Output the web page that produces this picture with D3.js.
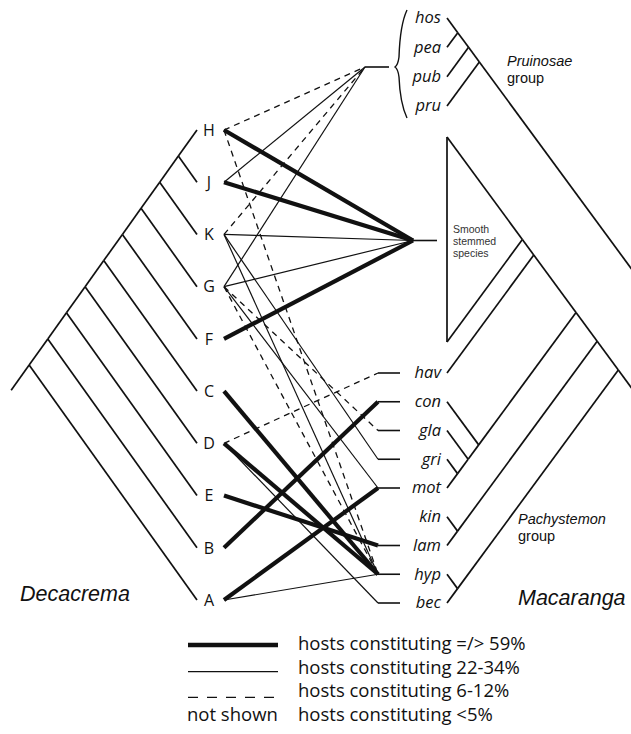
<!DOCTYPE html>
<html>
<head>
<meta charset="utf-8">
<script src="https://cdn.jsdelivr.net/npm/d3@7"></script>
<style>
body { margin: 0; background: #fff; }
svg { display: block; font-family: "Open Sans", sans-serif; }
</style>
</head>
<body>
<div class="drawingboard"></div>
<script>
// Decacrema (ants), top to bottom
const leftLeaves = ["H", "J", "K", "G", "F", "C", "D", "E", "B", "A"];
const leftTree = [[[[[[[[["H", "J"], "K"], "G"], "F"], "C"], "D"], "E"], "B"], "A"];

// Macaranga (hosts), top to bottom; "smooth" is the collapsed smooth-stemmed clade
const pruinosaeHosts = ["hos", "pea", "pub", "pru"];
const pachyHosts = ["hav", "con", "gla", "gri", "mot", "kin", "lam", "hyp", "bec"];
const smoothLines = ["Smooth", "stemmed", "species"];
const rightTree = [
    [[["hos", "pea"], "pub"], "pru"],
    [[[["smooth", "hav"], ["con", ["gla", ["gri", "mot"]]]], ["kin", "lam"]], ["hyp", "bec"]]
];

// associations: ant, host, strength class
const links = [
    ["H", "Pruinosae", "dashed"], ["H", "smooth", "thick"], ["H", "hyp", "dashed"],
    ["J", "Pruinosae", "thin"], ["J", "smooth", "thick"],
    ["K", "Pruinosae", "dashed"], ["K", "smooth", "thin"], ["K", "gri", "thin"], ["K", "hyp", "thin"],
    ["G", "Pruinosae", "thin"], ["G", "smooth", "thin"], ["G", "gla", "dashed"], ["G", "hyp", "dashed"], ["G", "mot", "thin"],
    ["F", "smooth", "thick"],
    ["C", "hyp", "thick"],
    ["D", "hav", "dashed"], ["D", "hyp", "thick"], ["D", "bec", "thin"],
    ["E", "lam", "thick"],
    ["B", "con", "thick"],
    ["A", "mot", "thick"], ["A", "hyp", "thin"]
];

const legendClasses = ["thick", "thin", "dashed", "none"];
const legendLabels = ["hosts constituting =/> 59%", "hosts constituting 22-34%", "hosts constituting 6-12%", "hosts constituting <5%"];

var width = 631, height = 734;
var ink = "#111";

var svg = d3.select(".drawingboard")
    .append("svg")
    .attr("width", width)
    .attr("height", height);

var yL = d3.scalePoint().domain(leftLeaves).range([130, 600]);
var yTop = d3.scalePoint().domain(pruinosaeHosts).range([18, 106]);
var yBot = d3.scalePoint().domain(pachyHosts).range([373, 603]);
var gap = 31;

function spanR(name) {
    if (name === "smooth") return [yTop.range()[1] + gap, yBot.range()[0] - gap];
    var y = pruinosaeHosts.includes(name) ? yTop(name) : yBot(name);
    return [y, y];
}

var widthOf = d3.scaleOrdinal().domain(["thick", "thin", "dashed"]).range([4.2, 1.2, 1.3]);
var dashOf = d3.scaleOrdinal().domain(["thick", "thin", "dashed"]).range([null, null, "6,5"]);

function kids(d) { return Array.isArray(d) ? d : null; }

// slanted cladogram: node sits where the line from its top leaf meets the line from its bottom leaf
function slant(root, span, tipX, dir, s) {
    root.eachAfter(function (d) {
        if (!d.children) {
            var sp = span(d.data);
            d.top = sp[0]; d.bot = sp[1];
        } else {
            d.top = d3.min(d.children, function (c) { return c.top; });
            d.bot = d3.max(d.children, function (c) { return c.bot; });
        }
        var t = (d.bot - d.top) / (2 * s);
        d.px = tipX + dir * t;
        d.py = d.top + s * t;
    });
}

var sL = 1.4, sR = 1.36, tipL = 197, tipR = 447;

var left = d3.hierarchy(leftTree, kids);
slant(left, function (n) { return [yL(n), yL(n)]; }, tipL, -1, sL);

var right = d3.hierarchy(rightTree, kids);
slant(right, spanR, tipR, 1, sR);

var trees = svg.append("g")
    .style("stroke", ink)
    .style("stroke-width", 1.7)
    .style("fill", "none");

function seg(x1, y1, x2, y2) {
    trees.append("line").attr("x1", x1).attr("y1", y1).attr("x2", x2).attr("y2", y2);
}

// left tree
left.descendants().slice(1).forEach(function (d) { seg(d.parent.px, d.parent.py, d.px, d.py); });
seg(left.px, left.py, left.px - 18, left.py + 18 * sL);

// right tree (root lies off the page, to the right)
right.descendants().forEach(function (d) {
    if (d.parent && d.parent !== right) seg(d.parent.px, d.parent.py, d.px, d.py);
});
right.children.forEach(function (d) { seg(d.px, d.py, d.px + 200, d.py + 200 * sR); });

// collapsed smooth-stemmed clade as a triangle
var smooth = right.leaves().find(function (d) { return d.data === "smooth"; });
seg(tipR, smooth.top, tipR, smooth.bot);
seg(tipR, smooth.top, smooth.px, smooth.py);
seg(tipR, smooth.bot, smooth.px, smooth.py);

// host target points
var braceTop = yTop("hos") - 8, braceBot = yTop("pru") + 12, braceMid = (braceTop + braceBot) / 2 + 3;
var smoothMid = (smooth.top + smooth.bot) / 2 + 1;

function target(name) {
    if (name === "Pruinosae") return [365, braceMid];
    if (name === "smooth") return [413, smoothMid];
    return [378, spanR(name)[0]];
}

var order = { dashed: 0, thin: 1, thick: 2 };
var sorted = links.slice().sort(function (a, b) { return order[a[2]] - order[b[2]]; });

svg.append("g").selectAll("line")
    .data(sorted)
    .enter().append("line")
    .attr("x1", 224)
    .attr("y1", function (d) { return yL(d[0]); })
    .attr("x2", function (d) { return target(d[1])[0]; })
    .attr("y2", function (d) { return target(d[1])[1]; })
    .style("stroke", ink)
    .style("stroke-width", function (d) { return widthOf(d[2]); })
    .style("stroke-dasharray", function (d) { return dashOf(d[2]); });

// short stubs from the target points toward the host labels
var hit = Array.from(new Set(links.map(function (d) { return d[1]; })));
var stubs = svg.append("g").style("stroke", ink).style("stroke-width", 1.6);
hit.forEach(function (name) {
    var p = target(name);
    var len = name === "Pruinosae" || name === "smooth" ? 24 : 22;
    stubs.append("line").attr("x1", p[0]).attr("y1", p[1]).attr("x2", p[0] + len).attr("y2", p[1]);
});

// brace round the Pruinosae hosts
svg.append("path")
    .attr("d", "M407," + braceTop + " Q400," + (braceTop + 15) + " 399," + (braceMid - 10) +
        " Q398," + (braceMid - 2) + " 395," + braceMid +
        " Q398," + (braceMid + 2) + " 399," + (braceMid + 10) +
        " Q400," + (braceBot - 15) + " 407," + braceBot)
    .style("fill", "none").style("stroke", ink).style("stroke-width", 1.4);

// labels
svg.append("g").selectAll("text")
    .data(leftLeaves)
    .enter().append("text")
    .attr("x", 209)
    .attr("y", function (d) { return yL(d); })
    .attr("dy", "0.36em")
    .style("text-anchor", "middle")
    .style("font-size", "16px")
    .style("fill", ink)
    .text(function (d) { return d; });

svg.append("g").selectAll("text")
    .data(pruinosaeHosts.concat(pachyHosts))
    .enter().append("text")
    .attr("x", 441)
    .attr("y", function (d) { return spanR(d)[0]; })
    .attr("dy", "0.33em")
    .style("text-anchor", "end")
    .style("font-style", "italic")
    .style("font-size", "16.5px")
    .style("fill", ink)
    .text(function (d) { return d; });

svg.append("g").selectAll("text")
    .data(smoothLines)
    .enter().append("text")
    .attr("x", 453)
    .attr("y", function (d, i) { return smoothMid - 8 + i * 12.3; })
    .style("font-family", "'Liberation Sans', Arial, sans-serif")
    .style("font-size", "10.5px")
    .style("fill", "#333")
    .text(function (d) { return d; });

function note(x, y, txt, size, italic) {
    svg.append("text")
        .attr("x", x).attr("y", y)
        .style("font-family", "'Liberation Sans', Arial, sans-serif")
        .style("font-size", size + "px")
        .style("font-style", italic ? "italic" : "normal")
        .style("fill", ink)
        .text(txt);
}
note(507, 66, "Pruinosae", 14.5, true);
note(507, 83, "group", 14.5, false);
note(518, 524, "Pachystemon", 14.5, true);
note(518, 541, "group", 14.5, false);
note(20, 601, "Decacrema", 21.5, true);
note(518, 605, "Macaranga", 21.5, true);

// legend
var legend = svg.append("g").attr("transform", "translate(0,650)");
var rowY = d3.scalePoint().domain(legendClasses).range([0, 71]);
var lineShift = { thick: -5, thin: -2, dashed: 0 };

legend.selectAll("line")
    .data(legendClasses.filter(function (d) { return d !== "none"; }))
    .enter().append("line")
    .attr("x1", 188).attr("x2", 278)
    .attr("y1", function (d) { return rowY(d) + lineShift[d]; })
    .attr("y2", function (d) { return rowY(d) + lineShift[d]; })
    .style("stroke", ink)
    .style("stroke-width", function (d) { return d === "thick" ? 4.5 : 1.2; })
    .style("stroke-dasharray", function (d) { return d === "dashed" ? "10,9" : null; });

legend.append("text")
    .attr("x", 187).attr("y", rowY("none"))
    .style("font-size", "18.5px").style("fill", ink)
    .text("not shown");

legend.selectAll(".lab")
    .data(legendLabels)
    .enter().append("text")
    .attr("class", "lab")
    .attr("x", 298)
    .attr("y", function (d, i) { return rowY(legendClasses[i]); })
    .style("font-size", "18.5px")
    .style("fill", ink)
    .text(function (d) { return d; });
</script>
</body>
</html>
